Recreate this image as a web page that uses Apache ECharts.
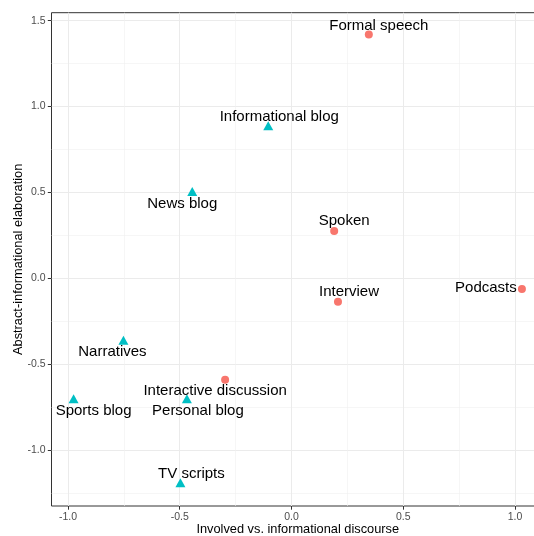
<!DOCTYPE html>
<html>
<head>
<meta charset="utf-8">
<script src="https://cdn.jsdelivr.net/npm/echarts@6/dist/echarts.min.js"></script>
<style>
  html, body { margin: 0; padding: 0; background: #fff; }
  #chart { width: 534px; height: 536px; }
</style>
</head>
<body>
<div id="chart"></div>
<script>
// genres and their scores on the two dimensions
const genres = ['Formal speech', 'Informational blog', 'News blog', 'Spoken', 'Interview', 'Podcasts',
  'Narratives', 'Sports blog', 'Personal blog', 'Interactive discussion', 'TV scripts'];
const involvedScore = [0.346, -0.104, -0.444, 0.191, 0.208, 1.031, -0.752, -0.975, -0.468, -0.297, -0.497];
const abstractScore = [1.419, 0.889, 0.506, 0.275, -0.136, -0.062, -0.361, -0.701, -0.701, -0.591, -1.190];
const mode = ['spoken', 'written', 'written', 'spoken', 'spoken', 'spoken',
  'written', 'written', 'written', 'spoken', 'written'];

// tick values
const majorTicksX = [-1.0, -0.5, 0.0, 0.5, 1.0];
const minorTicksX = [-0.75, -0.25, 0.25, 0.75];
const majorTicksY = [-1.0, -0.5, 0.0, 0.5, 1.0, 1.5];
const minorTicksY = [-1.25, -0.75, -0.25, 0.25, 0.75, 1.25];

// label placement (pixel offset of the text from its point, like ggrepel did)
const labelNudge = {
  'Formal speech': [10, -9],
  'Informational blog': [11, -9],
  'News blog': [-10, 12],
  'Spoken': [10, -10],
  'Interview': [11, -10],
  'Podcasts': [-36, -1],
  'Narratives': [-11, 12],
  'Sports blog': [20, 12],
  'Personal blog': [11, 12],
  'Interactive discussion': [-10, 11],
  'TV scripts': [11, -9]
};

const fmt = v => v.toFixed(1);

function buildPoints(group) {
  const out = [];
  genres.forEach((g, i) => {
    if (mode[i] !== group) return;
    out.push({
      name: g,
      value: [involvedScore[i], abstractScore[i]],
      label: { offset: labelNudge[g] }
    });
  });
  return out;
}

const chart = echarts.init(document.getElementById('chart'), null, { renderer: 'canvas' });

const xRange = { min: -1.0738, max: 1.1298 };
const yRange = { min: -1.326, max: 1.5466 };

const pointLabel = {
  show: true,
  position: 'inside',
  formatter: p => p.name,
  color: '#000',
  fontSize: 15,
  fontFamily: 'Liberation Sans',
  align: 'center',
  verticalAlign: 'middle'
};

const option = {
  animation: false,
  backgroundColor: '#fff',
  grid: {
    left: 51.5,
    top: 12.7,
    right: -10,
    bottom: 30,
    containLabel: false,
    outerBoundsMode: 'none',
    show: true,
    borderColor: '#333',
    borderWidth: 1,
    backgroundColor: 'transparent'
  },
  xAxis: [
    {
      // minor grid
      type: 'value', min: xRange.min, max: xRange.max, position: 'bottom',
      axisLine: { show: false, onZero: false }, axisTick: { show: false, customValues: minorTicksX },
      axisLabel: { show: false, customValues: minorTicksX },
      splitLine: { show: true, lineStyle: { color: '#f0f0f0', width: 0.6 } }
    },
    {
      type: 'value', min: xRange.min, max: xRange.max, position: 'bottom',
      name: 'Involved vs. informational discourse',
      nameLocation: 'middle', nameGap: 16.5, nameMoveOverlap: false,
      nameTextStyle: { color: '#000', fontSize: 12.8, fontFamily: 'Liberation Sans' },
      axisLine: { show: false, onZero: false },
      axisTick: { show: true, length: 3.7, customValues: majorTicksX, lineStyle: { color: '#333' } },
      axisLabel: { show: true, customValues: majorTicksX, formatter: fmt, margin: 5.5,
        color: '#4d4d4d', fontSize: 10.5, fontFamily: 'Liberation Sans' },
      splitLine: { show: true, lineStyle: { color: '#ebebeb', width: 1 } }
    }
  ],
  yAxis: [
    {
      type: 'value', min: yRange.min, max: yRange.max, position: 'left',
      axisLine: { show: false, onZero: false }, axisTick: { show: false, customValues: minorTicksY },
      axisLabel: { show: false, customValues: minorTicksY },
      splitLine: { show: true, lineStyle: { color: '#f0f0f0', width: 0.6 } }
    },
    {
      type: 'value', min: yRange.min, max: yRange.max, position: 'left',
      name: 'Abstract-informational elaboration',
      nameLocation: 'middle', nameGap: 27, nameMoveOverlap: false,
      nameTextStyle: { color: '#000', fontSize: 12.8, fontFamily: 'Liberation Sans' },
      axisLine: { show: false, onZero: false },
      axisTick: { show: true, length: 3.7, customValues: majorTicksY, lineStyle: { color: '#333' } },
      axisLabel: { show: true, customValues: majorTicksY, formatter: fmt, margin: 6,
        color: '#4d4d4d', fontSize: 10.5, fontFamily: 'Liberation Sans' },
      splitLine: { show: true, lineStyle: { color: '#ebebeb', width: 1 } }
    }
  ],
  series: [
    {
      type: 'scatter', name: 'spoken', xAxisIndex: 1, yAxisIndex: 1,
      symbol: 'circle', symbolSize: 8,
      itemStyle: { color: '#F8766D', opacity: 1 },
      label: pointLabel,
      data: buildPoints('spoken')
    },
    {
      type: 'scatter', name: 'written', xAxisIndex: 1, yAxisIndex: 1,
      symbol: 'triangle', symbolSize: [10, 9],
      itemStyle: { color: '#00BFC4', opacity: 1 },
      label: pointLabel,
      data: buildPoints('written')
    }
  ]
};

chart.setOption(option);
</script>
</body>
</html>
